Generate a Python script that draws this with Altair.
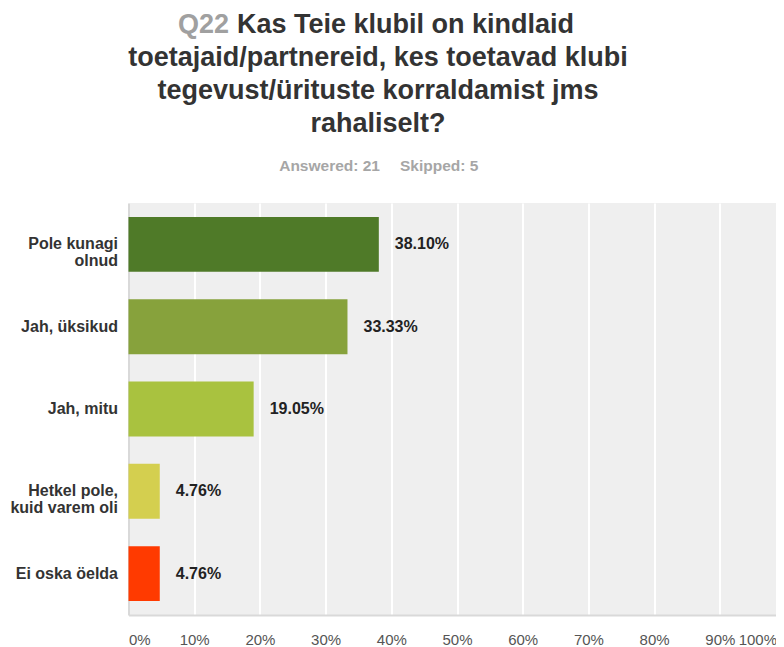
import altair as alt
import pandas as pd

# ---- data ----
categories = ["Pole kunagi olnud", "Jah, üksikud", "Jah, mitu",
              "Hetkel pole, kuid varem oli", "Ei oska öelda"]
values = [38.10, 33.33, 19.05, 4.76, 4.76]
bar_colors = ["#4f7a28", "#87a23c", "#a9c23f", "#d4cf4f", "#ff3a00"]
x_ticks = [0, 10, 20, 30, 40, 50, 60, 70, 80, 90, 100]

title_q = "Q22"
title_lines = ["Kas Teie klubil on kindlaid",
               "toetajaid/partnereid, kes toetavad klubi",
               "tegevust/ürituste korraldamist jms",
               "rahaliselt?"]
answered = "Answered: 21"
skipped = "Skipped: 5"

FONT = "Liberation Sans, Arial, Helvetica, sans-serif"

df = pd.DataFrame({"answer": categories, "value": values})

label_expr = (
    "datum.label == 'Pole kunagi olnud' ? ['Pole kunagi', 'olnud'] : "
    "datum.label == 'Hetkel pole, kuid varem oli' ? ['Hetkel pole,', 'kuid varem oli'] : "
    "datum.label"
)

base = alt.Chart(df)

bars = base.mark_bar().encode(
    x=alt.X("value:Q",
            scale=alt.Scale(domain=[0, 100], nice=False),
            axis=alt.Axis(values=x_ticks, title=None, grid=True, gridColor="#ffffff",
                          gridWidth=2, ticks=False, tickSize=0, labelPadding=17,
                          labelExpr="datum.value + '%'", labelFlush=True,
                          labelOffset=alt.condition("datum.value == 100",
                                                    alt.value(-9), alt.value(0)),
                          labelFont=FONT, labelFontSize=15, labelColor="#555555",
                          domainColor="#d9d9d9", domainWidth=2)),
    y=alt.Y("answer:N", sort=categories,
            scale=alt.Scale(paddingInner=1 / 3, paddingOuter=0.17),
            axis=alt.Axis(title=None, ticks=False, tickSize=0, labelPadding=11,
                          labelExpr=label_expr, labelFont=FONT, labelFontSize=16,
                          labelFontWeight="bold", labelColor="#333333",
                          labelLineHeight=17, domainColor="#d9d9d9", domainWidth=2)),
    color=alt.Color("answer:N", scale=alt.Scale(domain=categories, range=bar_colors),
                    legend=None),
)

labels = base.transform_calculate(
    lbl="format(datum.value, '.2f') + '%'"
).mark_text(align="left", baseline="middle", dx=16, font=FONT, fontSize=16,
            fontWeight="bold", color="#222222").encode(
    x="value:Q",
    y=alt.Y("answer:N", sort=categories),
    text="lbl:N",
)

def txt(t, x, y, align, color, size, weight="bold"):
    return alt.Chart(pd.DataFrame({"t": [t]})).mark_text(
        align=align, baseline="alphabetic", font=FONT, fontSize=size,
        fontWeight=weight, color=color
    ).encode(text="t:N", x=alt.value(x), y=alt.value(y))

ox, oy = 128.5, 203  # plot origin in page coordinates
title_layers = [
    txt(title_q, 229 - ox, 33 - oy, "right", "#a0a0a0", 27),
    txt(title_lines[0], 237 - ox, 33 - oy, "left", "#333333", 27),
    txt(title_lines[1], 378 - ox, 66 - oy, "center", "#333333", 27),
    txt(title_lines[2], 378 - ox, 99 - oy, "center", "#333333", 27),
    txt(title_lines[3], 378 - ox, 132 - oy, "center", "#333333", 27),
    txt(answered, 380 - ox, 171 - oy, "right", "#a6a6a6", 15.5),
    txt(skipped, 400 - ox, 171 - oy, "left", "#a6a6a6", 15.5),
]

chart = alt.layer(bars, labels, *title_layers).properties(
    width=657, height=412,
    padding={"left": 120.5, "top": 195, "right": -9.5, "bottom": 34},
    autosize=alt.AutoSizeParams(type="none"),
    background="#ffffff",
).configure_view(fill="#efefef", strokeWidth=0)

chart.save("out.html", embed_options={"renderer": "svg", "actions": False})
